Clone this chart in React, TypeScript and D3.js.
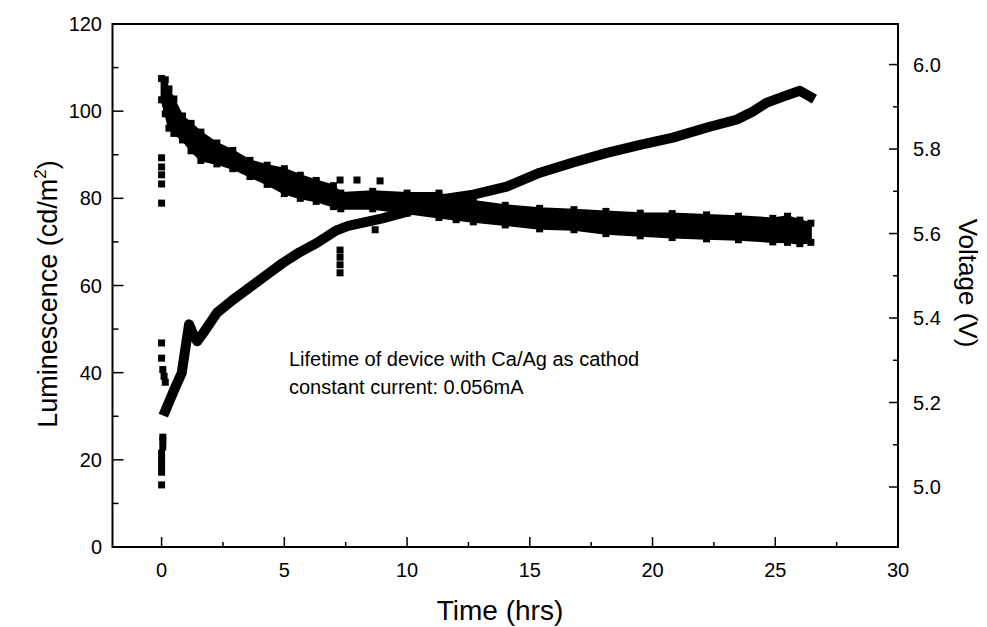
import React from 'react';
import * as d3 from 'd3';

// Axis ticks
const timeTicks = [0, 5, 10, 15, 20, 25, 30];
const timeMinorTicks = [2.5, 7.5, 12.5, 17.5, 22.5, 27.5];
const lumTicks = [0, 20, 40, 60, 80, 100, 120];
const lumMinorTicks = [10, 30, 50, 70, 90, 110];
const voltTicks = [5.0, 5.2, 5.4, 5.6, 5.8, 6.0];
const voltMinorTicks = [5.1, 5.3, 5.5, 5.7, 5.9];

// Luminescence (cd/m^2): noisy band, upper and lower readings per time (hrs)
const lumTime = [0, 0.15, 0.3, 0.5, 0.85, 1.2, 1.6, 2.25, 2.9, 3.6, 4.3, 5.0, 5.65, 6.3, 7.0, 7.3, 8.6, 10, 11.3, 12, 12.7, 14, 15.4, 16.8, 18.1, 19.5, 20.8, 22.2, 23.5, 24.9, 25.5, 26.0, 26.45];
const lumHigh = [107.5, 107.2, 105.1, 102.8, 98.9, 97.2, 95.2, 92.7, 91.0, 88.7, 87.6, 86.8, 85.3, 84.1, 82.9, 81.2, 81.6, 81.2, 81.2, 79.6, 79.4, 78.4, 77.7, 77.4, 77.0, 76.6, 76.5, 76.2, 75.9, 75.4, 75.9, 75.0, 74.3];
const lumLow = [102.6, 99.4, 96.1, 94.9, 93.4, 90.9, 88.7, 87.9, 86.8, 85.0, 83.2, 81.1, 80.0, 79.3, 78.1, 77.6, 77.6, 76.6, 75.6, 75.1, 74.6, 73.9, 73.0, 72.8, 71.9, 71.4, 71.0, 70.7, 70.5, 70.0, 69.9, 69.6, 69.9];
// Isolated luminescence readings
const lumStrayTime = [0, 0, 0, 0, 0, 7.27, 7.96, 8.9];
const lumStrayValue = [89.3, 87.2, 85.4, 83.3, 78.9, 84.2, 84.2, 84.0];

// Drive voltage (V) under constant current
const voltTime = [0.15, 0.55, 0.82, 1.0, 1.12, 1.3, 1.45, 1.7, 2.25, 2.9, 3.6, 4.3, 4.93, 5.6, 6.33, 7.1, 7.6, 8.3, 9.0, 10.0, 11.3, 12.7, 14.06, 15.41, 16.76, 18.14, 19.49, 20.83, 22.22, 23.44, 24.09, 24.66, 25.32, 26.0, 26.42];
const voltValue = [5.18, 5.235, 5.27, 5.34, 5.385, 5.36, 5.345, 5.365, 5.412, 5.443, 5.473, 5.503, 5.53, 5.555, 5.578, 5.607, 5.618, 5.627, 5.636, 5.652, 5.68, 5.692, 5.711, 5.744, 5.768, 5.791, 5.81, 5.827, 5.851, 5.87, 5.889, 5.91, 5.924, 5.938, 5.924];
// Isolated voltage readings
const voltStrayTime = [0, 0, 0, 0, 0, 0.05, 0.05, 0.05, 0, 0, 0.05, 0.1, 0.15, 7.27, 7.27, 7.27, 7.27, 8.7];
const voltStrayValue = [5.005, 5.035, 5.05, 5.065, 5.08, 5.095, 5.11, 5.118, 5.341, 5.305, 5.278, 5.262, 5.248, 5.561, 5.544, 5.526, 5.507, 5.609];

const W = 987;
const H = 627;
const plot = { left: 112.5, right: 898, top: 24, bottom: 547 };
const FONT = '"Liberation Sans", Arial, sans-serif';
const SQ = 7;

export default function App() {
  const x = d3.scaleLinear().domain([-2, 30]).range([plot.left, plot.right]);
  const yL = d3.scaleLinear().domain([0, 120]).range([plot.bottom, plot.top]);
  const yV = d3.scaleLinear().domain([4.858, 6.096]).range([plot.bottom, plot.top]);

  const lumBand = d3
    .area<number>()
    .x((_, i) => x(lumTime[i]))
    .y0((_, i) => yL(lumLow[i]))
    .y1((_, i) => yL(lumHigh[i]))(lumTime);

  const voltLine = d3
    .line<number>()
    .x((_, i) => x(voltTime[i]))
    .y((_, i) => yV(voltValue[i]))(voltTime);

  const square = (cx: number, cy: number, key: string) => (
    <rect key={key} x={cx - SQ / 2} y={cy - SQ / 2} width={SQ} height={SQ} fill="#000" />
  );

  return (
    <svg
      width={W}
      height={H}
      viewBox={`0 0 ${W} ${H}`}
      style={{ position: 'absolute', left: 0, top: 0, background: '#fff' }}
      fontFamily={FONT}
    >
      <rect width={W} height={H} fill="#fff" />

      {/* luminescence band */}
      <path d={lumBand ?? ''} fill="#000" stroke="#000" strokeWidth={2} />
      {lumTime.map((t, i) => square(x(t), yL(lumHigh[i]), `lh${i}`))}
      {lumTime.map((t, i) => square(x(t), yL(lumLow[i]), `ll${i}`))}
      {lumStrayTime.map((t, i) => square(x(t), yL(lumStrayValue[i]), `ls${i}`))}

      {/* voltage trace */}
      <path d={voltLine ?? ''} fill="none" stroke="#000" strokeWidth={10} strokeLinejoin="round" strokeLinecap="square" />
      {voltStrayTime.map((t, i) => square(x(t), yV(voltStrayValue[i]), `vs${i}`))}

      {/* frame */}
      <rect
        x={plot.left}
        y={plot.top}
        width={plot.right - plot.left}
        height={plot.bottom - plot.top}
        fill="none"
        stroke="#000"
        strokeWidth={2}
      />

      {/* bottom axis */}
      {timeTicks.map((t) => (
        <g key={`xt${t}`}>
          <line x1={x(t)} x2={x(t)} y1={plot.bottom} y2={plot.bottom - 10} stroke="#000" strokeWidth={1.5} />
          <text x={x(t)} y={577} fontSize={20} textAnchor="middle">
            {t}
          </text>
        </g>
      ))}
      {timeMinorTicks.map((t) => (
        <line key={`xm${t}`} x1={x(t)} x2={x(t)} y1={plot.bottom} y2={plot.bottom - 5} stroke="#000" strokeWidth={1.5} />
      ))}

      {/* left axis */}
      {lumTicks.map((v) => (
        <g key={`yl${v}`}>
          <line x1={plot.left} x2={plot.left + 11} y1={yL(v)} y2={yL(v)} stroke="#000" strokeWidth={1.5} />
          <text x={102} y={yL(v)} dy="0.35em" fontSize={20} textAnchor="end">
            {v}
          </text>
        </g>
      ))}
      {lumMinorTicks.map((v) => (
        <line key={`ylm${v}`} x1={plot.left} x2={plot.left + 6} y1={yL(v)} y2={yL(v)} stroke="#000" strokeWidth={1.5} />
      ))}

      {/* right axis */}
      {voltTicks.map((v) => (
        <g key={`yr${v}`}>
          <line x1={plot.right} x2={plot.right - 9} y1={yV(v)} y2={yV(v)} stroke="#000" strokeWidth={1.5} />
          <text x={913} y={yV(v)} dy="0.35em" fontSize={20} textAnchor="start">
            {v.toFixed(1)}
          </text>
        </g>
      ))}
      {voltMinorTicks.map((v) => (
        <line key={`yrm${v}`} x1={plot.right} x2={plot.right - 5} y1={yV(v)} y2={yV(v)} stroke="#000" strokeWidth={1.5} />
      ))}

      {/* axis titles */}
      <text x={500} y={620} fontSize={28} textAnchor="middle">
        Time (hrs)
      </text>
      <text transform="translate(57,294) rotate(-90)" fontSize={27} textAnchor="middle">
        Luminescence (cd/m
        <tspan fontSize={17} dy={-11}>2</tspan>
        <tspan dy={11}>)</tspan>
      </text>
      <text transform="translate(959,283) rotate(90)" fontSize={26} textAnchor="middle">
        Voltage (V)
      </text>

      {/* annotation */}
      <text x={289} y={366} fontSize={20}>
        Lifetime of device with Ca/Ag as cathod
      </text>
      <text x={289} y={394} fontSize={20}>
        constant current: 0.056mA
      </text>
    </svg>
  );
}
